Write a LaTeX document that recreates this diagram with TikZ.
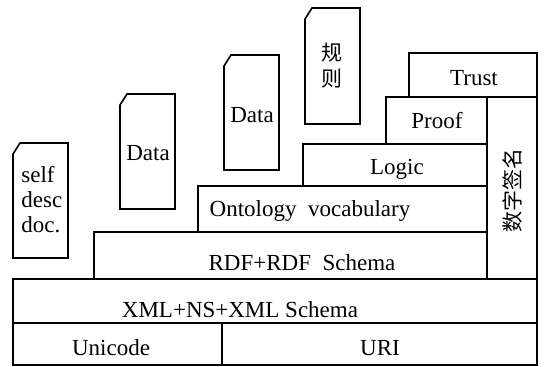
\documentclass[tikz,border=0pt]{standalone}
\usepackage{fontspec}
\setmainfont{Liberation Serif}
\newfontfamily\cjk{Noto Sans CJK SC}
\begin{document}
\begin{tikzpicture}[x=0.5pt,y=-0.5pt,
  box/.style={draw=black,line width=0.8pt,line join=miter},
  lbl/.style={font=\fontsize{11.5}{13}\selectfont,inner sep=0pt,anchor=base},
  cjklbl/.style={font=\cjk\fontsize{10.5}{12}\selectfont,inner sep=0pt}]
\useasboundingbox (0,0) rectangle (545,366);
% layered boxes
\draw[box] (13,323) rectangle (222,365);
\draw[box] (222,323) rectangle (537,365);
\draw[box] (13,279) rectangle (537,323);
\draw[box] (94,232) rectangle (487,279);
\draw[box] (198,186) rectangle (487,232);
\draw[box] (303,144) rectangle (487,186);
\draw[box] (386,97) rectangle (487,144);
\draw[box] (409,53) rectangle (537,97);
\draw[box] (487,97) rectangle (537,279);
% documents with cut corner
\draw[box] (20,143) -- (68,143) -- (68,258) -- (13,258) -- (13,154) -- cycle;
\draw[box] (127,94) -- (175,94) -- (175,209) -- (120,209) -- (120,105) -- cycle;
\draw[box] (231,55) -- (279,55) -- (279,170) -- (224,170) -- (224,66) -- cycle;
\draw[box] (312,8) -- (360,8) -- (360,124) -- (305,124) -- (305,19) -- cycle;
% labels
\node[lbl] (trust) at (474,85) {Trust};
\node[lbl] (proof) at (437,128) {Proof};
\node[lbl] (logic) at (397,174) {Logic};
\node[lbl] (onto) at (310,216) {Ontology\ \ vocabulary};
\node[lbl] (rdf) at (302,270) {RDF+RDF\ \ Schema};
\node[lbl] (xml) at (240,317) {XML+NS+XML Schema};
\node[lbl] (unicode) at (111,355) {Unicode};
\node[lbl] (uri) at (380,355) {URI};
\node[lbl] (data1) at (148,160) {Data};
\node[lbl] (data2) at (252,122) {Data};
\node[lbl,anchor=base west] (self) at (21,182) {self};
\node[lbl,anchor=base west] (desc) at (21,207) {desc};
\node[lbl,anchor=base west] (doc) at (21,232) {doc.};
\node[cjklbl] (gui) at (332,52.5) {规};
\node[cjklbl] (ze) at (332,78.5) {则};
\node[cjklbl,rotate=90] (sig) at (512,190) {数字签名};
\end{tikzpicture}
\end{document}
